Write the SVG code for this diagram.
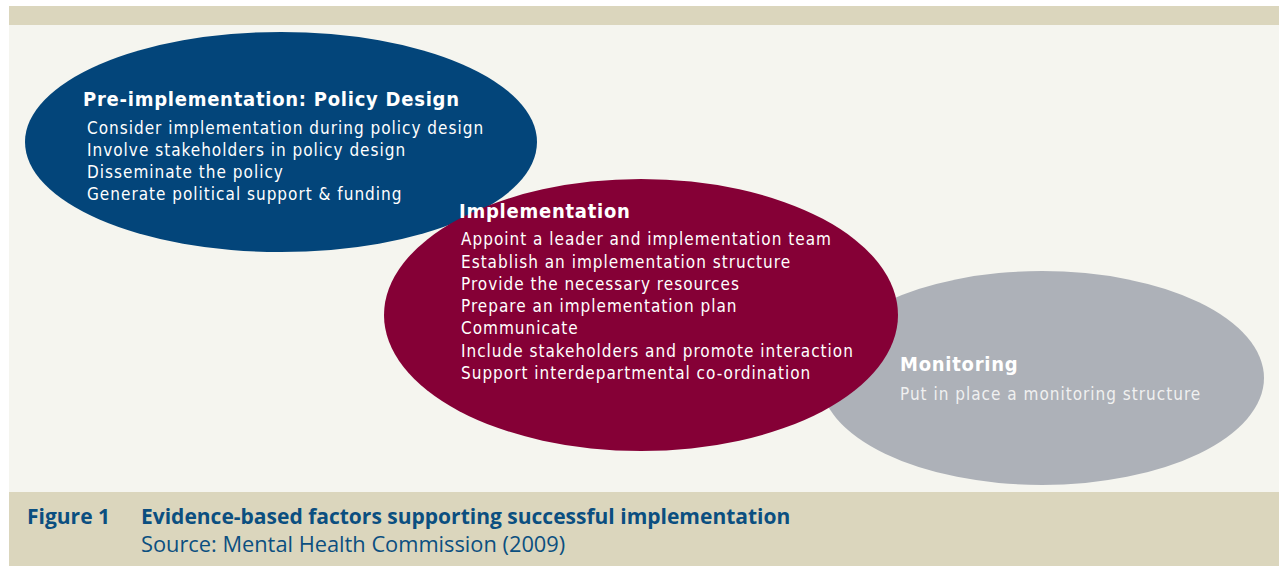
<svg xmlns="http://www.w3.org/2000/svg" width="1279" height="566" viewBox="0 0 1279 566">
<style>
.t{font-family:"DejaVu Sans Condensed","DejaVu Sans",sans-serif;font-weight:bold;font-size:20px;letter-spacing:0.75px;fill:#fff}
.i{font-family:"DejaVu Sans Condensed","DejaVu Sans",sans-serif;font-size:17px;letter-spacing:1px;fill:#fff}
.m{fill:#f0f0f0}
.c{font-family:"Open Sans","Liberation Sans",sans-serif;fill:#0b4f80}
.cb{font-size:21px;font-weight:bold}
.cr{font-size:21.8px}
</style>
<rect x="0" y="0" width="1279" height="566" fill="#ffffff"/>
<rect x="9" y="6" width="1270" height="19" fill="#dbd6bd"/>
<rect x="9" y="25" width="1270" height="467" fill="#f5f5ef"/>
<rect x="9" y="492" width="1270" height="74" fill="#dbd6bd"/>
<g id="node-monitoring">
<ellipse cx="1042" cy="378" rx="222" ry="107" fill="#adb1b8"/>
<text class="t" x="900" y="371">Monitoring</text>
<text class="i m" x="900" y="400">Put in place a monitoring structure</text>
</g>
<g id="node-pre">
<ellipse cx="281" cy="142" rx="256" ry="110" fill="#03457a"/>
<text class="t" x="83" y="106">Pre-implementation: Policy Design</text>
<text class="i" x="87" y="134">Consider implementation during policy design</text>
<text class="i" x="87" y="156">Involve stakeholders in policy design</text>
<text class="i" x="87" y="178">Disseminate the policy</text>
<text class="i" x="87" y="200">Generate political support &amp; funding</text>
</g>
<g id="node-impl">
<ellipse cx="641" cy="315" rx="257" ry="136" fill="#850036"/>
<text class="t" x="459" y="218">Implementation</text>
<text class="i" x="461" y="245">Appoint a leader and implementation team</text>
<text class="i" x="461" y="268">Establish an implementation structure</text>
<text class="i" x="461" y="290">Provide the necessary resources</text>
<text class="i" x="461" y="312">Prepare an implementation plan</text>
<text class="i" x="461" y="334">Communicate</text>
<text class="i" x="461" y="357">Include stakeholders and promote interaction</text>
<text class="i" x="461" y="379">Support interdepartmental co-ordination</text>
</g>
<g id="connectors"></g>
<g id="caption">
<text class="c cb" x="27" y="524">Figure 1</text>
<text class="c cb" x="141" y="524">Evidence-based factors supporting successful implementation</text>
<text class="c cr" x="141" y="552">Source: Mental Health Commission (2009)</text>
</g>
</svg>
